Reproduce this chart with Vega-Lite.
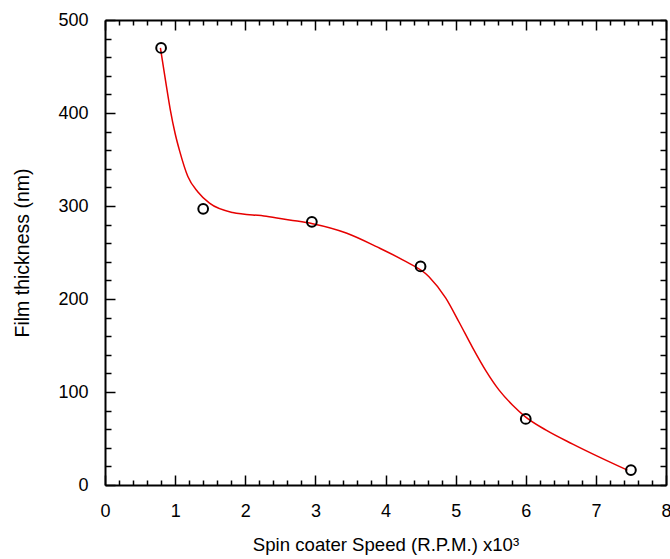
{
  "$schema": "https://vega.github.io/schema/vega-lite/v6.json",
  "width": 561,
  "height": 465,
  "autosize": "none",
  "padding": {"left": 105, "top": 20, "right": 4, "bottom": 74},
  "background": "white",
  "config": {
    "view": {"stroke": null},
    "axis": {
      "grid": false,
      "domainColor": "black",
      "domainWidth": 2,
      "tickColor": "black",
      "tickWidth": 1.5,
      "labelFont": "Liberation Sans",
      "labelFontSize": 18,
      "labelColor": "black",
      "titleFont": "Liberation Sans",
      "titleFontSize": 18.6,
      "titleFontWeight": "normal",
      "titleColor": "black"
    }
  },
  "datasets": {
    "measured": [
      {"speed": 0.8, "thickness": 470},
      {"speed": 1.4, "thickness": 297},
      {"speed": 2.95, "thickness": 283},
      {"speed": 4.5, "thickness": 235},
      {"speed": 6.0, "thickness": 71},
      {"speed": 7.5, "thickness": 16}
    ],
    "fit": [
      {"speed": 0.79, "thickness": 470},
      {"speed": 0.865, "thickness": 434},
      {"speed": 0.93, "thickness": 404},
      {"speed": 1.0, "thickness": 378},
      {"speed": 1.065, "thickness": 359},
      {"speed": 1.18, "thickness": 332},
      {"speed": 1.325, "thickness": 315},
      {"speed": 1.49, "thickness": 303},
      {"speed": 1.82, "thickness": 293},
      {"speed": 2.3, "thickness": 289},
      {"speed": 2.63, "thickness": 285},
      {"speed": 2.96, "thickness": 281},
      {"speed": 3.44, "thickness": 271},
      {"speed": 3.88, "thickness": 256},
      {"speed": 4.245, "thickness": 242},
      {"speed": 4.62, "thickness": 224},
      {"speed": 4.86, "thickness": 201},
      {"speed": 5.05, "thickness": 175},
      {"speed": 5.24, "thickness": 148},
      {"speed": 5.43, "thickness": 123},
      {"speed": 5.62, "thickness": 102},
      {"speed": 5.81, "thickness": 86},
      {"speed": 6.0, "thickness": 73},
      {"speed": 6.29, "thickness": 59},
      {"speed": 6.67, "thickness": 44},
      {"speed": 7.05, "thickness": 30},
      {"speed": 7.45, "thickness": 16}
    ]
  },
  "resolve": {"axis": {"x": "independent", "y": "independent"}},
  "layer": [
    {
      "data": {"name": "fit"},
      "mark": {"type": "line", "color": "#e60000", "strokeWidth": 1.5, "interpolate": "monotone"},
      "encoding": {
        "x": {
          "field": "speed", "type": "quantitative",
          "scale": {"domain": [0, 8], "nice": false},
          "axis": {
            "orient": "bottom", "values": [0, 1, 2, 3, 4, 5, 6, 7, 8],
            "ticks": false, "labelPadding": 17, "labelFlush": false,
            "title": "Spin coater Speed (R.P.M.) x10³", "titlePadding": 15
          }
        },
        "y": {
          "field": "thickness", "type": "quantitative",
          "scale": {"domain": [0, 500], "nice": false},
          "axis": {
            "orient": "left", "values": [0, 100, 200, 300, 400, 500],
            "ticks": false, "labelPadding": 17, "labelFlush": false,
            "title": "Film thickness (nm)", "titleFontSize": 19.5, "titlePadding": 25
          }
        }
      }
    },
    {
      "data": {"name": "measured"},
      "mark": {"type": "point", "shape": "circle", "size": 95, "filled": false, "stroke": "black", "strokeWidth": 2, "opacity": 1},
      "encoding": {
        "x": {
          "field": "speed", "type": "quantitative",
          "axis": {"orient": "bottom", "values": [0, 1, 2, 3, 4, 5, 6, 7, 8], "labels": false, "domain": false, "tickSize": -10, "title": null}
        },
        "y": {
          "field": "thickness", "type": "quantitative",
          "axis": {"orient": "left", "values": [0, 100, 200, 300, 400, 500], "labels": false, "domain": false, "tickSize": -10, "title": null}
        }
      }
    },
    {
      "data": {"name": "measured"},
      "mark": {"type": "point", "opacity": 0},
      "encoding": {
        "x": {
          "field": "speed", "type": "quantitative",
          "axis": {"orient": "bottom", "values": [0.2, 0.4, 0.6, 0.8, 1.2, 1.4, 1.6, 1.8, 2.2, 2.4, 2.6, 2.8, 3.2, 3.4, 3.6, 3.8, 4.2, 4.4, 4.6, 4.8, 5.2, 5.4, 5.6, 5.8, 6.2, 6.4, 6.6, 6.8, 7.2, 7.4, 7.6, 7.8], "labels": false, "domain": false, "tickSize": -5, "title": null}
        },
        "y": {
          "field": "thickness", "type": "quantitative",
          "axis": {"orient": "left", "values": [20, 40, 60, 80, 120, 140, 160, 180, 220, 240, 260, 280, 320, 340, 360, 380, 420, 440, 460, 480], "labels": false, "domain": false, "tickSize": -6, "title": null}
        }
      }
    },
    {
      "data": {"name": "measured"},
      "mark": {"type": "point", "opacity": 0},
      "encoding": {
        "x": {
          "field": "speed", "type": "quantitative",
          "axis": {"orient": "top", "values": [0, 1, 2, 3, 4, 5, 6, 7, 8], "labels": false, "tickSize": -10, "title": null}
        },
        "y": {
          "field": "thickness", "type": "quantitative",
          "axis": {"orient": "right", "values": [0, 100, 200, 300, 400, 500], "labels": false, "tickSize": -6, "title": null}
        }
      }
    },
    {
      "data": {"name": "measured"},
      "mark": {"type": "point", "opacity": 0},
      "encoding": {
        "x": {
          "field": "speed", "type": "quantitative",
          "axis": {"orient": "top", "values": [0.2, 0.4, 0.6, 0.8, 1.2, 1.4, 1.6, 1.8, 2.2, 2.4, 2.6, 2.8, 3.2, 3.4, 3.6, 3.8, 4.2, 4.4, 4.6, 4.8, 5.2, 5.4, 5.6, 5.8, 6.2, 6.4, 6.6, 6.8, 7.2, 7.4, 7.6, 7.8], "labels": false, "domain": false, "tickSize": -5, "title": null}
        },
        "y": {
          "field": "thickness", "type": "quantitative",
          "axis": {"orient": "right", "values": [20, 40, 60, 80, 120, 140, 160, 180, 220, 240, 260, 280, 320, 340, 360, 380, 420, 440, 460, 480], "labels": false, "domain": false, "tickSize": -6, "title": null}
        }
      }
    }
  ]
}
